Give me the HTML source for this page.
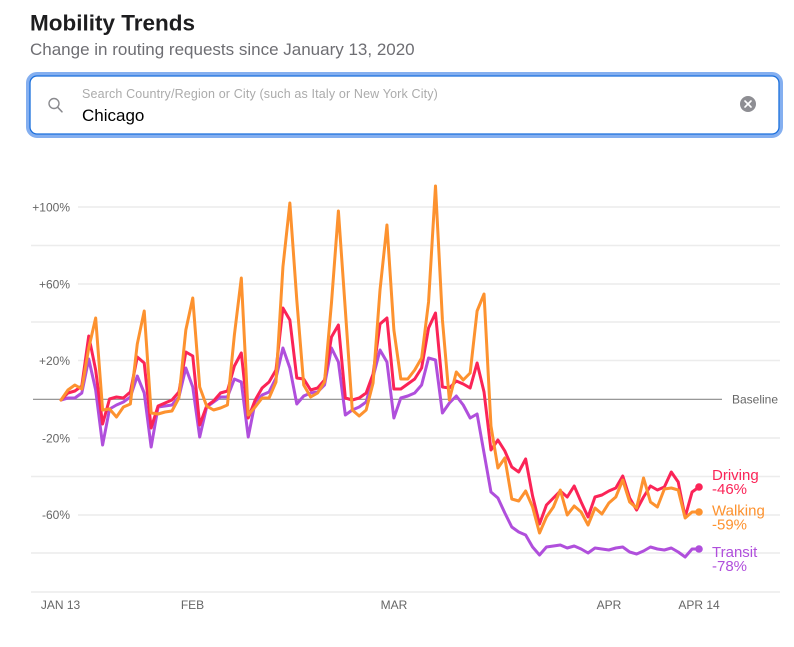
<!DOCTYPE html>
<html>
<head>
<meta charset="utf-8">
<style>
  html,body{margin:0;padding:0;background:#fff;}
  body{width:794px;height:647px;overflow:hidden;}
  svg{display:block;}
  text{font-family:"Liberation Sans",Arial,sans-serif;}
</style>
</head>
<body>
<svg width="794" height="647" viewBox="0 0 794 647" xmlns="http://www.w3.org/2000/svg">
  <rect x="0" y="0" width="794" height="647" fill="#fff"/>

  <!-- Header -->
  <text x="30" y="30.5" font-size="22.5" font-weight="bold" fill="#1d1d1f">Mobility Trends</text>
  <text x="30" y="55" font-size="17" fill="#6e6e73">Change in routing requests since January 13, 2020</text>

  <!-- Search box -->
  <rect x="28" y="74" width="753" height="62" rx="9" ry="9" fill="none" stroke="#84aff0" stroke-width="4"/>
  <rect x="30" y="76" width="749" height="58" rx="7" ry="7" fill="#fff" stroke="#1a6fdc" stroke-width="1.3"/>
  <circle cx="54" cy="103.5" r="5" fill="none" stroke="#8a8a8e" stroke-width="1.4"/>
  <line x1="57.6" y1="107.2" x2="62" y2="111.8" stroke="#8a8a8e" stroke-width="1.5" stroke-linecap="round"/>
  <text x="82" y="98" font-size="12.5" letter-spacing="0.15" fill="#ababab">Search Country/Region or City (such as Italy or New York City)</text>
  <text x="82" y="121" font-size="17" fill="#000">Chicago</text>
  <circle cx="748" cy="104" r="8" fill="#8e8e93"/>
  <line x1="745" y1="101" x2="751" y2="107" stroke="#fff" stroke-width="1.6" stroke-linecap="round"/>
  <line x1="751" y1="101" x2="745" y2="107" stroke="#fff" stroke-width="1.6" stroke-linecap="round"/>

  <!-- Gridlines -->
  <g stroke="#ececec" stroke-width="1.5">
    <line x1="78" y1="207" x2="780" y2="207"/>
    <line x1="31" y1="245.5" x2="780" y2="245.5"/>
    <line x1="78" y1="284" x2="780" y2="284"/>
    <line x1="31" y1="322" x2="780" y2="322"/>
    <line x1="78" y1="360.5" x2="780" y2="360.5"/>
    <line x1="78" y1="438" x2="780" y2="438"/>
    <line x1="31" y1="476.5" x2="780" y2="476.5"/>
    <line x1="78" y1="515" x2="780" y2="515"/>
    <line x1="31" y1="553" x2="780" y2="553"/>
    <line x1="31" y1="592" x2="780" y2="592"/>
  </g>
  <line x1="33" y1="399.3" x2="722" y2="399.3" stroke="#8a8a8a" stroke-width="1.2"/>

  <!-- Y labels -->
  <g font-size="12" fill="#666" text-anchor="end">
    <text x="70" y="211.3">+100%</text>
    <text x="70" y="288.3">+60%</text>
    <text x="70" y="365">+20%</text>
    <text x="70" y="442.3">-20%</text>
    <text x="70" y="519">-60%</text>
  </g>
  <text x="732" y="403.5" font-size="12" fill="#666">Baseline</text>

  <!-- X labels -->
  <g font-size="12" fill="#666" text-anchor="middle">
    <text x="60.5" y="609">JAN 13</text>
    <text x="192.5" y="609">FEB</text>
    <text x="394" y="609">MAR</text>
    <text x="609" y="609">APR</text>
    <text x="699" y="609">APR 14</text>
  </g>

  <!-- Series -->
  <g transform="translate(61,0) scale(6.935,1)" fill="none" stroke-width="3" stroke-linejoin="round" stroke-linecap="round">
    <polyline vector-effect="non-scaling-stroke" stroke="#b04fdc" points="0,400 1,398 2,398 3,393 4,359 5,390 6,445 7,409 8,405 9,402 10,397 11,376 12,393 13,447 14,407 15,406 16,405 17,397 18,368 19,387 20,437 21,407 22,402 23,397 24,397 25,379 26,382 27,437 28,402 29,395 30,392 31,378 32,348 33,368 34,404 35,396 36,393 37,392 38,385 39,348 40,362 41,415 42,410 43,407 44,402 45,377 46,350 47,362 48,418 49,398 50,396 51,393 52,385 53,358 54,360 55,413 56,403 57,396 58,405 59,418 60,414 61,453 62,492 63,498 64,513 65,527 66,532 67,535 68,547 69,555 70,547 71,546 72,545 73,548 74,546 75,549 76,553 77,548 78,549 79,550 80,548 81,547 82,552 83,554 84,551 85,547 86,549 87,550 88,548 89,552 90,557 91,549 92,549"/>
    <polyline vector-effect="non-scaling-stroke" stroke="#fb2457" points="0,400 1,393 2,391 3,386 4,336 5,370 6,424 7,399 8,397 9,398 10,392 11,357 12,363 13,428 14,406 15,403 16,400 17,392 18,352 19,356 20,425 21,406 22,401 23,393 24,391 25,366 26,353 27,418 28,400 29,388 30,382 31,370 32,308 33,320 34,378 35,379 36,390 37,388 38,380 39,337 40,325 41,398 42,400 43,398 44,393 45,374 46,324 47,318 48,389 49,389 50,384 51,379 52,368 53,328 54,313 55,387 56,388 57,381 58,384 59,388 60,363 61,392 62,450 63,440 64,451 65,467 66,472 67,459 68,496 69,524 70,505 71,498 72,491 73,497 74,486 75,502 76,517 77,497 78,495 79,491 80,488 81,476 82,498 83,510 84,497 85,486 86,490 87,487 88,472 89,482 90,517 91,492 92,487"/>
    <polyline vector-effect="non-scaling-stroke" stroke="#fd922f" points="0,400 1,390 2,385 3,389 4,348 5,318 6,410 7,409 8,417 9,407 10,404 11,344 12,311 13,413 14,414 15,412 16,411 17,398 18,330 19,298 20,387 21,406 22,410 23,408 24,405 25,335 26,278 27,415 28,407 29,398 30,398 31,382 32,267 33,203 34,300 35,385 36,397 37,393 38,382 39,303 40,211 41,310 42,410 43,416 44,410 45,383 46,290 47,225 48,330 49,379 50,379 51,370 52,358 53,302 54,186 55,320 56,400 57,372 58,380 59,373 60,311 61,294 62,426 63,468 64,458 65,499 66,501 67,491 68,507 69,533 70,517 71,507 72,490 73,515 74,506 75,512 76,525 77,508 78,514 79,503 80,497 81,480 82,502 83,508 84,478 85,502 86,507 87,489 88,488 89,490 90,518 91,512 92,512"/>
  </g>

  <!-- End dots -->
  <circle cx="699" cy="487" r="3.8" fill="#fb2457"/>
  <circle cx="699" cy="512" r="3.8" fill="#fd922f"/>
  <circle cx="699" cy="549" r="3.8" fill="#b04fdc"/>

  <!-- End labels -->
  <g font-size="15">
    <text x="712" y="480" fill="#fb2457">Driving</text>
    <text x="712" y="494" fill="#fb2457">-46%</text>
    <text x="712" y="515.5" fill="#fd922f">Walking</text>
    <text x="712" y="529.5" fill="#fd922f">-59%</text>
    <text x="712" y="557" fill="#b04fdc">Transit</text>
    <text x="712" y="571" fill="#b04fdc">-78%</text>
  </g>
</svg>
</body>
</html>
